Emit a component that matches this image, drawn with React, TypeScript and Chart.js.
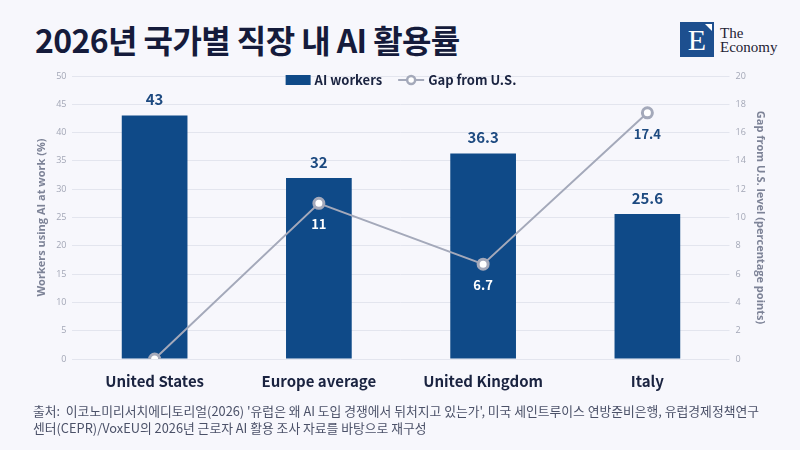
import React, { useEffect, useRef } from "react";
import { Chart, registerables } from "chart.js";

Chart.register(...registerables);

const title = "2026년 국가별 직장 내 AI 활용률";
const categories = ["United States", "Europe average", "United Kingdom", "Italy"];
const aiWorkers = [43, 32, 36.3, 25.6];
const gapFromUS = [0, 11, 6.7, 17.4];
const barLabel = "AI workers";
const lineLabel = "Gap from U.S.";
const leftAxisTitle = "Workers using AI at work (%)";
const rightAxisTitle = "Gap from U.S. level (percentage points)";
const sourceLines = [
  "출처:  이코노미리서치에디토리얼(2026) '유럽은 왜 AI 도입 경쟁에서 뒤처지고 있는가', 미국 세인트루이스 연방준비은행, 유럽경제정책연구",
  "센터(CEPR)/VoxEU의 2026년 근로자 AI 활용 조사 자료를 바탕으로 재구성",
];

const NAVY = "#0f4a88";
const LABEL_NAVY = "#1d4a80";
const GREY_LINE = "#a4a9ba";
const DARK = "#1a2340";
const BG = "#f7f7fc";
const FONT = "'Noto Sans CJK KR', 'Noto Sans', sans-serif";
const AX_FONT = "'Open Sans', 'Noto Sans', sans-serif";

const labelsPlugin = {
  id: "valueLabels",
  afterDatasetsDraw(chart: any) {
    const ctx = chart.ctx;
    const barMeta = chart.getDatasetMeta(1);
    const lineMeta = chart.getDatasetMeta(0);
    ctx.save();
    ctx.textAlign = "center";
    ctx.textBaseline = "middle";
    ctx.font = `bold 15px ${FONT}`;
    ctx.fillStyle = LABEL_NAVY;
    barMeta.data.forEach((el: any, i: number) => {
      ctx.fillText(String(aiWorkers[i]), el.x, el.y - 16);
    });
    ctx.font = `bold 13px ${FONT}`;
    lineMeta.data.forEach((pt: any, i: number) => {
      const v = gapFromUS[i];
      if (v === 0) return;
      const bar = barMeta.data[i];
      const inside = pt.y > bar.y;
      ctx.fillStyle = inside ? "#ffffff" : LABEL_NAVY;
      ctx.fillText(String(v), pt.x, pt.y + 21);
    });
    ctx.restore();
  },
};

const legendPlugin = {
  id: "customLegend",
  afterDraw(chart: any) {
    const ctx = chart.ctx;
    const area = chart.chartArea;
    ctx.save();
    ctx.font = `bold 13px ${FONT}`;
    const w1 = ctx.measureText(barLabel).width;
    const w2 = ctx.measureText(lineLabel).width;
    const boxW = 25;
    const lineW = 26;
    const gap = 4;
    const spacing = 16;
    const total = boxW + gap + w1 + spacing + lineW + gap + w2;
    const cx = (area.left + area.right) / 2;
    let x = cx - total / 2;
    const y = area.top + 4;
    ctx.fillStyle = NAVY;
    ctx.fillRect(x, y - 5, boxW, 10);
    x += boxW + gap;
    ctx.fillStyle = DARK;
    ctx.textBaseline = "middle";
    ctx.textAlign = "left";
    ctx.fillText(barLabel, x, y);
    x += w1 + spacing;
    ctx.strokeStyle = GREY_LINE;
    ctx.lineWidth = 2;
    ctx.beginPath();
    ctx.moveTo(x, y);
    ctx.lineTo(x + lineW, y);
    ctx.stroke();
    ctx.beginPath();
    ctx.arc(x + lineW / 2, y, 4, 0, Math.PI * 2);
    ctx.fillStyle = "#ffffff";
    ctx.fill();
    ctx.lineWidth = 2.5;
    ctx.stroke();
    x += lineW + gap;
    ctx.fillStyle = DARK;
    ctx.fillText(lineLabel, x, y);
    ctx.restore();
  },
};

function ChartCanvas() {
  const ref = useRef<HTMLCanvasElement | null>(null);
  useEffect(() => {
    if (!ref.current) return;
    const chart = new Chart(ref.current, {
      type: "bar",
      data: {
        labels: categories,
        datasets: [
          {
            type: "line",
            label: lineLabel,
            data: gapFromUS,
            yAxisID: "y1",
            order: 0,
            borderColor: GREY_LINE,
            borderWidth: 2,
            pointRadius: 5,
            pointBackgroundColor: "#ffffff",
            pointBorderColor: GREY_LINE,
            pointBorderWidth: 3,
            tension: 0,
          } as any,
          {
            type: "bar",
            label: barLabel,
            data: aiWorkers,
            yAxisID: "y",
            order: 1,
            backgroundColor: NAVY,
            barPercentage: 0.8,
            categoryPercentage: 0.5,
          } as any,
        ],
      },
      options: {
        animation: false,
        responsive: false,
        maintainAspectRatio: false,
        layout: { padding: { left: 33, right: 31, top: 76, bottom: 55 } },
        plugins: {
          legend: { display: false },
          tooltip: { enabled: false },
        },
        scales: {
          x: {
            grid: { display: false },
            border: { display: false },
            ticks: {
              color: DARK,
              padding: 5,
              font: { family: FONT, size: 15, weight: "bold" },
            },
          },
          y: {
            position: "left",
            min: 0,
            max: 50,
            ticks: {
              stepSize: 5,
              color: "#a3a7b6",
              padding: 6,
              font: { family: AX_FONT, size: 9 },
            },
            grid: { color: "#e3e5ee", drawTicks: false, lineWidth: 1 },
            border: { display: false },
            title: {
              display: true,
              text: leftAxisTitle,
              color: "#7d8397",
              padding: { top: 2, bottom: 2 },
              font: { family: AX_FONT, size: 11, weight: "bold" },
            },
          },
          y1: {
            position: "right",
            min: 0,
            max: 20,
            ticks: {
              stepSize: 2,
              color: "#a3a7b6",
              padding: 6,
              font: { family: AX_FONT, size: 9 },
            },
            grid: { drawOnChartArea: false, drawTicks: false },
            border: { display: false },
            title: {
              display: true,
              text: rightAxisTitle,
              color: "#7d8397",
              padding: { top: 2, bottom: 2 },
              font: { family: AX_FONT, size: 11, weight: "bold" },
            },
          },
        },
      },
      plugins: [labelsPlugin, legendPlugin],
    } as any);
    return () => chart.destroy();
  }, []);
  return (
    <canvas
      ref={ref}
      width={800}
      height={450}
      style={{ position: "absolute", left: 0, top: 0, width: 800, height: 450 }}
    />
  );
}

function Logo() {
  return (
    <div style={{ position: "absolute", left: 680, top: 22, display: "flex", alignItems: "center" }}>
      <div
        style={{
          position: "relative",
          width: 34,
          height: 35,
          background: "#1d4f8f",
          color: "#ffffff",
          fontFamily: "'Liberation Serif', 'DejaVu Serif', serif",
          fontSize: 30,
          lineHeight: "35px",
          textAlign: "center",
        }}
      >
        E
        <div
          style={{
            position: "absolute",
            right: 2,
            top: 2,
            width: 0,
            height: 0,
            borderTop: "7px solid #ffffff",
            borderLeft: "7px solid transparent",
          }}
        />
      </div>
      <div
        style={{
          marginLeft: 6,
          fontFamily: "'Liberation Serif', 'DejaVu Serif', serif",
          fontSize: 15,
          lineHeight: "14px",
          color: "#1e2233",
        }}
      >
        <div>The</div>
        <div>Economy</div>
      </div>
    </div>
  );
}

export default function App() {
  return (
    <div
      style={{
        position: "absolute",
        left: 0,
        top: 0,
        width: 800,
        height: 450,
        background: BG,
        overflow: "hidden",
      }}
    >
      <div
        style={{
          position: "absolute",
          left: 35,
          top: 18,
          fontFamily: FONT,
          fontWeight: 700,
          fontSize: 32,
          lineHeight: "42px",
          color: "#151b3b",
          letterSpacing: -0.6,
          whiteSpace: "nowrap",
        }}
      >
        {title}
      </div>
      <Logo />
      <ChartCanvas />
      <div
        style={{
          position: "absolute",
          left: 33,
          top: 402,
          fontFamily: FONT,
          fontSize: 12.8,
          lineHeight: "17px",
          color: "#4b5168",
          whiteSpace: "pre",
        }}
      >
        {sourceLines.map((l, i) => (
          <div key={i}>{l}</div>
        ))}
      </div>
    </div>
  );
}
